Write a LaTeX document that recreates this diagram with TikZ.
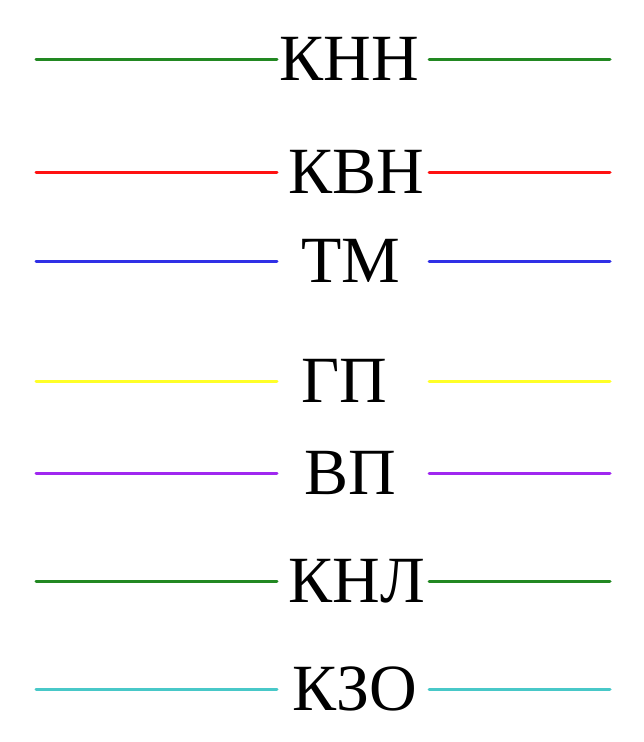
\documentclass[tikz,border=0pt]{standalone}
\usepackage{fontspec}
\setmainfont{Liberation Serif}
\definecolor{knn}{RGB}{34,136,34}
\definecolor{kvn}{RGB}{255,18,18}
\definecolor{tm}{RGB}{48,48,230}
\definecolor{gp}{RGB}{255,255,40}
\definecolor{vp}{RGB}{160,40,240}
\definecolor{kzo}{RGB}{72,200,200}

\begin{document}
\begin{tikzpicture}[x=1pt,y=-1pt]
    \useasboundingbox (0,0) rectangle (643,742);
    \begin{scope}[every node/.style={inner sep=0pt, text height=43pt, text depth=0pt,
        font=\fontsize{66}{66}\selectfont}]
        \node (knn) at (349,59) {КНН};
        \node (kvn) at (356,172) {КВН};
        \node (tm) at (351,261) {ТМ};
        \node (gp) at (344,381) {ГП};
        \node (vp) at (350,473) {ВП};
        \node (knl) at (357,581) {КНЛ};
        \node (kzo) at (355,689) {КЗО};
    \end{scope}
    % line ends
    \coordinate (knn-l) at (36,59);   \coordinate (knn-r) at (610,59);
    \coordinate (kvn-l) at (36,172);  \coordinate (kvn-r) at (610,172);
    \coordinate (tm-l) at (36,261);   \coordinate (tm-r) at (610,261);
    \coordinate (gp-l) at (36,381);   \coordinate (gp-r) at (610,381);
    \coordinate (vp-l) at (36,473);   \coordinate (vp-r) at (610,473);
    \coordinate (knl-l) at (36,581);  \coordinate (knl-r) at (610,581);
    \coordinate (kzo-l) at (36,689);  \coordinate (kzo-r) at (610,689);
    \begin{scope}[line width=3pt, line cap=round]
        \draw[knn] (knn-l) -- (knn-l -| 277,0);
        \draw[knn] (knn-r) -- (knn-r -| 429,0);
        \draw[kvn] (kvn-l) -- (kvn-l -| 277,0);
        \draw[kvn] (kvn-r) -- (kvn-r -| 429,0);
        \draw[tm] (tm-l) -- (tm-l -| 277,0);
        \draw[tm] (tm-r) -- (tm-r -| 429,0);
        \draw[gp] (gp-l) -- (gp-l -| 277,0);
        \draw[gp] (gp-r) -- (gp-r -| 429,0);
        \draw[vp] (vp-l) -- (vp-l -| 277,0);
        \draw[vp] (vp-r) -- (vp-r -| 429,0);
        \draw[knn] (knl-l) -- (knl-l -| 277,0);
        \draw[knn] (knl-r) -- (knl-r -| 429,0);
        \draw[kzo] (kzo-l) -- (kzo-l -| 277,0);
        \draw[kzo] (kzo-r) -- (kzo-r -| 429,0);
    \end{scope}
\end{tikzpicture}
\end{document}
